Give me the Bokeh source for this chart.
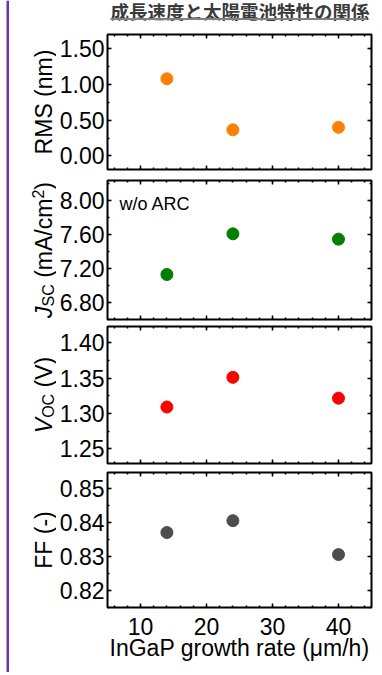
import numpy as np
from bokeh.plotting import figure
from bokeh.layouts import column, row
from bokeh.models import Range1d, LinearAxis, Label, SingleIntervalTicker, NumeralTickFormatter
from bokeh.embed import file_html
from bokeh.resources import INLINE
from bokeh.core.properties import value

# ---------------- data ----------------
title_text = "成長速度と太陽電池特性の関係"
growth_rate = [14, 24, 40]          # InGaP growth rate (um/h)
rms_nm = [1.08, 0.365, 0.40]
jsc_ma_cm2 = [7.127, 7.607, 7.544]
voc_v = [1.309, 1.351, 1.3215]
ff = [0.8371, 0.8406, 0.8306]
x_label = "InGaP growth rate (μm/h)"
note_text = "w/o ARC"
rms_label = [("RMS (nm)", "normal")]
jsc_label = [("J", "italic"), ("SC", "sub"), (" (mA/cm", "normal"), ("2", "sup"), (")", "normal")]
voc_label = [("V", "italic"), ("OC", "sub"), (" (V)", "normal")]
ff_label = [("FF (-)", "normal")]

# ---------------- style ----------------
FONT = "Liberation Sans"
FS = 23
SUB_FS = 16
TOTAL_H = 672
LW = 56
W = 382 - LW
LEFT, RIGHT = 48, 11

AW = {' ': 278, '(': 333, ')': 333, 'm': 833, 'A': 667, '/': 278, 'c': 500, '2': 556,
      'J': 500, 'S': 667, 'C': 722, 'V': 667, 'O': 778, 'n': 556, 'R': 722, 'M': 833,
      'F': 611, '-': 333}


def tw(s, px):
    return sum(AW.get(c, 556) for c in s) * px / 1000.0


def bare(p):
    p.grid.visible = False
    p.outline_line_color = None
    p.background_fill_color = "white"
    p.border_fill_color = "white"


def style_axis(ax, labels):
    ax.axis_line_color = None
    ax.major_tick_in = 4
    ax.major_tick_out = 0
    ax.minor_tick_in = 2
    ax.minor_tick_out = 0
    ax.major_tick_line_width = 1.5
    ax.minor_tick_line_width = 1.5
    ax.major_tick_line_color = "black"
    ax.minor_tick_line_color = "black"
    if labels:
        ax.major_label_text_font = FONT
        ax.major_label_text_font_size = f"{FS}px"
        ax.major_label_text_color = "black"
        ax.major_label_standoff = 3
    else:
        ax.major_label_text_font_size = "0px"
        ax.major_label_standoff = 0


def make_panel(height, top, bottom, yr, yint, color, ydata, xlabels=False):
    p = figure(width=W, height=height, x_range=Range1d(5, 45), y_range=Range1d(*yr),
               x_axis_location=None, y_axis_location=None, toolbar_location=None,
               output_backend="svg", title=None,
               min_border_left=LEFT, min_border_right=RIGHT,
               min_border_top=top, min_border_bottom=bottom)
    bare(p)
    p.outline_line_color = "black"
    p.outline_line_width = 2
    for side in ["left", "right"]:
        ax = LinearAxis(ticker=SingleIntervalTicker(interval=yint, num_minor_ticks=2),
                        formatter=NumeralTickFormatter(format="0.00"))
        style_axis(ax, side == "left")
        p.add_layout(ax, side)
    for side in ["below", "above"]:
        ax = LinearAxis(ticker=SingleIntervalTicker(interval=10, num_minor_ticks=5))
        show = side == "below" and xlabels
        style_axis(ax, show)
        if show:
            ax.major_label_standoff = 10
            ax.axis_label = x_label
            ax.axis_label_text_font = FONT
            ax.axis_label_text_font_size = f"{FS}px"
            ax.axis_label_text_font_style = "normal"
            ax.axis_label_text_color = "black"
            ax.axis_label_standoff = -3
        p.add_layout(ax, side)
    p.scatter(growth_rate, ydata, size=12, color=color, line_color=color)
    return p


# ---------------- left strip: purple rule + rotated y titles ----------------
lf = figure(width=LW, height=TOTAL_H, x_range=Range1d(0, LW), y_range=Range1d(0, TOTAL_H),
            x_axis_location=None, y_axis_location=None, toolbar_location=None,
            output_backend="svg", title=None, min_border_left=0, min_border_right=0,
            min_border_top=0, min_border_bottom=0)
bare(lf)
lf.quad(left=[6], right=[8.5], bottom=[0], top=[TOTAL_H], fill_color="#7030a0",
        line_color=None)


def ytitle(center_img_y, pieces):
    sizes = {"normal": FS, "italic": FS, "sub": SUB_FS, "sup": SUB_FS}
    xs = {"normal": 43, "italic": 43, "sub": 48.4, "sup": 37.0}
    total = sum(tw(t, sizes[k]) for t, k in pieces)
    y = center_img_y + total / 2.0          # bottom end of the rotated title
    for t, k in pieces:
        s = sizes[k]
        lead = len(t) - len(t.lstrip(" "))
        y_start = y - tw(" " * lead, s)
        lf.text(x=[xs[k]], y=[TOTAL_H - y_start], text=[t.strip(" ")], angle=np.pi / 2,
                text_align="left", text_baseline="middle",
                text_font=value(FONT), text_font_size=f"{s}px",
                text_font_style="italic" if k == "italic" else "normal",
                text_color="black")
        y -= tw(t, s)


ytitle(101.5, rms_label)
ytitle(249.5, jsc_label)
ytitle(394.5, voc_label)
ytitle(539.5, ff_label)

# ---------------- title (frame aligned with panels' frames) ----------------
TH = 30
tp = figure(width=W, height=TH, x_range=Range1d(LW + LEFT, 382 - RIGHT),
            y_range=Range1d(0, TH),
            x_axis_location=None, y_axis_location=None, toolbar_location=None,
            output_backend="svg", title=None, min_border_left=LEFT,
            min_border_right=RIGHT, min_border_top=0, min_border_bottom=0)
bare(tp)
tfs = 18.5
tx0 = 107
tp.text(x=[tx0], y=[TH - 10], text=[title_text], text_font=value("Noto Sans CJK JP"),
        text_font_size=f"{tfs}px", text_font_style="bold", text_color="#3a3a3a",
        text_align="left", text_baseline="middle")
tp.segment(x0=[tx0], y0=[TH - 18.5], x1=[tx0 + len(title_text) * tfs], y1=[TH - 18.5],
           line_color="#808080", line_width=2)

# ---------------- panels ----------------
p1 = make_panel(145, 4, 6, (-0.19, 1.70), 0.5, "#ff8000", rms_nm)
p2 = make_panel(147, 5, 3, (6.596, 8.236), 0.4, "#008000", jsc_ma_cm2)
p2.add_layout(Label(x=5, y=8.236, x_offset=12, y_offset=-23, text=note_text,
                    text_font=FONT, text_font_size="18px", text_color="black",
                    text_align="left", text_baseline="alphabetic"))
p3 = make_panel(145, 4, 4, (1.229, 1.423), 0.05, "#ff0000", voc_v)
p4 = make_panel(TOTAL_H - 30 - 145 - 147 - 145, 5, TOTAL_H - 30 - 145 - 147 - 145 - 140,
                (0.815, 0.8548), 0.01, "#4d4d4d", ff, xlabels=True)

layout = row(lf, column(tp, p1, p2, p3, p4))

open("out.html", "w").write(file_html(layout, INLINE))
